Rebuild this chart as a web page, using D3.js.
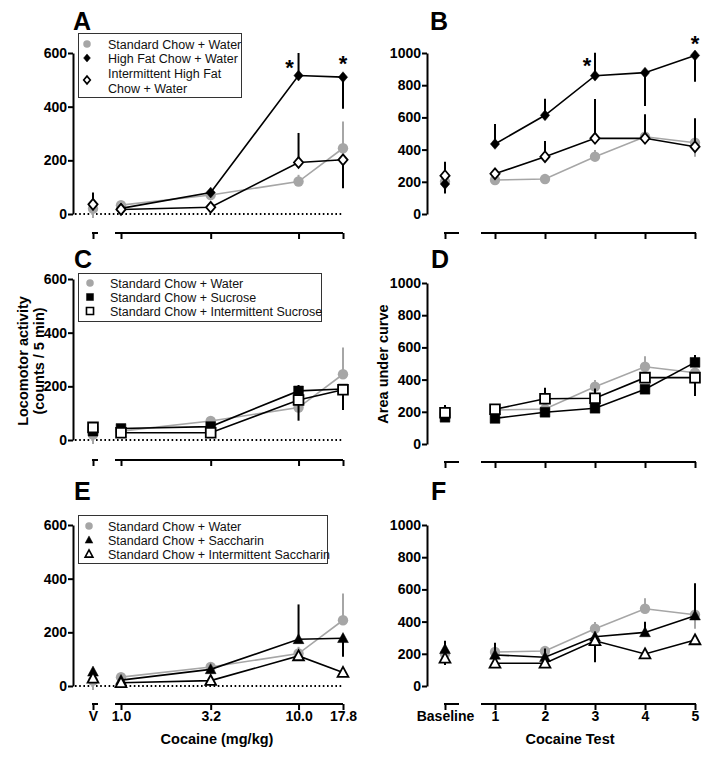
<!DOCTYPE html>
<html><head><meta charset="utf-8">
<script src="https://cdn.jsdelivr.net/npm/d3@7"></script>
<style>
body{margin:0;background:#fff}
svg{display:block}
text{font-family:"Liberation Sans",Arial,Helvetica,sans-serif}
</style>
</head><body>
<svg id="chart" width="714" height="759"></svg>
<script>
// ---------------- DATA ----------------
const doses = [1.0, 3.2, 10.0, 17.8];
const doseLabels = ["1.0", "3.2", "10.0", "17.8"];
const vehicleLabel = "V";
const tests = [1, 2, 3, 4, 5];
const testLabels = ["1", "2", "3", "4", "5"];
const baselineLabel = "Baseline";
const countTicks = [0, 200, 400, 600];
const aucTicks = [0, 200, 400, 600, 800, 1000];

// first element = vehicle (V) / Baseline; error: + drawn up, - drawn down
const stdWaterCounts    = [20, 33, 71, 121, 245];
const stdWaterCountsErr = [-35, 0, 0, 25, 100];
const stdWaterAuc       = [200, 211, 217, 356, 480, 443];
const stdWaterAucErr    = [-60, 0, 12, 42, 65, -88];

const hfCounts    = [35, 21, 80, 516, 510];
const hfCountsErr = [45, 0, 0, 84, -118];
const ihfCounts    = [36, 17, 25, 192, 202];
const ihfCountsErr = [0, 0, 0, 110, -106];
const hfAuc    = [186, 435, 613, 859, 878, 985];
const hfAucErr = [-58, 124, 103, 143, -207, -163];
const ihfAuc    = [238, 250, 356, 470, 470, 418];
const ihfAucErr = [87, 0, 97, 244, 149, 176];

const sucCounts    = [33, 43, 50, 183, 190];
const sucCountsErr = [0, 0, 0, 22, 0];
const isucCounts    = [47, 27, 27, 149, 187];
const isucCountsErr = [0, 0, 0, -77, -75];
const sucAuc    = [166, 159, 197, 222, 340, 507];
const sucAucErr = [0, 0, 0, 0, 0, 46];
const isucAuc    = [194, 216, 281, 284, 412, 412];
const isucAucErr = [48, 0, 69, 60, 0, -114];

const sacCounts    = [53, 22, 62, 174, 178];
const sacCountsErr = [0, 0, 0, 130, -69];
const isacCounts    = [29, 12, 20, 112, 50];
const isacCountsErr = [0, 0, 0, 0, 0];
const sacAuc    = [228, 193, 179, 306, 333, 437];
const sacAucErr = [53, 76, 54, 0, 66, 201];
const isacAuc    = [172, 141, 141, 281, 199, 286];
const isacAucErr = [-42, 0, 0, -134, 0, 0];

const starsA = [[10.0, 560], [17.8, 575]];
const starsB = [[3, 945], [5, 1080]];

const legendA = ["Standard Chow + Water", "High Fat Chow + Water", "Intermittent High Fat|Chow + Water"];
const legendC = ["Standard Chow + Water", "Standard Chow + Sucrose", "Standard Chow + Intermittent Sucrose"];
const legendE = ["Standard Chow + Water", "Standard Chow + Saccharin", "Standard Chow + Intermittent Saccharin"];

// ---------------- STYLES ----------------
const GRAY = "#a6a6a6";
const styles = {
  gray:    {fill: GRAY, stroke: "none", line: GRAY, sw: 0},
  filled:  {fill: "#000", stroke: "#000", line: "#000", sw: 0.5},
  open:    {fill: "#fff", stroke: "#000", line: "#000", sw: 1.8}
};

function markerPath(shape, k) {
  const p = d3.path();
  if (shape === "circle") { const r = 5.2 * k; p.moveTo(r, 0); p.arc(0, 0, r, 0, 2 * Math.PI); }
  else if (shape === "diamond") { const w = 4.6 * k, h = 5.4 * k; p.moveTo(0, -h); p.lineTo(w, 0); p.lineTo(0, h); p.lineTo(-w, 0); p.closePath(); }
  else if (shape === "square") { const s = 4.9 * k; p.rect(-s, -s, 2 * s, 2 * s); }
  else if (shape === "triangle") { const s = 5.4 * k; p.moveTo(0, -s * 1.05); p.lineTo(s, s * 0.8); p.lineTo(-s, s * 0.8); p.closePath(); }
  return p.toString();
}

const xDose = d3.scaleLog().domain([1, 17.8]).range([121, 343]);
const vehicleGap = 28;
const xTest = d3.scaleLinear().domain([0, 5]).range([445, 695]);

const svg = d3.select("#chart");

const panels = [
  {letter: "A", side: "L", top: 53, bottom: 214, axisY: 233, max: 600, ticks: countTicks, labels: false,
   series: [
     {v: stdWaterCounts, e: stdWaterCountsErr, st: "gray", shape: "circle"},
     {v: hfCounts, e: hfCountsErr, st: "filled", shape: "diamond"},
     {v: ihfCounts, e: ihfCountsErr, st: "open", shape: "diamond"}],
   stars: starsA, starDx: [-9, 0],
   legend: {x: 78, y: 33, w: 163, h: 64, mx: 87, tx: 108, rows: [44, 58, 80], text: legendA, shapes: ["circle", "diamond", "diamond"], st: ["gray", "filled", "open"]}},
  {letter: "B", side: "R", top: 53, bottom: 214, axisY: 233, max: 1000, ticks: aucTicks, labels: false,
   series: [
     {v: stdWaterAuc, e: stdWaterAucErr, st: "gray", shape: "circle"},
     {v: hfAuc, e: hfAucErr, st: "filled", shape: "diamond"},
     {v: ihfAuc, e: ihfAucErr, st: "open", shape: "diamond"}],
   stars: starsB, starDx: [-8, 0]},
  {letter: "C", side: "L", top: 279, bottom: 440, axisY: 460, max: 600, ticks: countTicks, labels: false,
   series: [
     {v: stdWaterCounts, e: stdWaterCountsErr, st: "gray", shape: "circle"},
     {v: sucCounts, e: sucCountsErr, st: "filled", shape: "square"},
     {v: isucCounts, e: isucCountsErr, st: "open", shape: "square"}],
   legend: {x: 78, y: 273, w: 243, h: 48, mx: 90, tx: 110, rows: [283, 297, 311], text: legendC, shapes: ["circle", "square", "square"], st: ["gray", "filled", "open"]}},
  {letter: "D", side: "R", top: 283, bottom: 444, axisY: 462, max: 1000, ticks: aucTicks, labels: false,
   series: [
     {v: stdWaterAuc, e: stdWaterAucErr, st: "gray", shape: "circle"},
     {v: sucAuc, e: sucAucErr, st: "filled", shape: "square"},
     {v: isucAuc, e: isucAucErr, st: "open", shape: "square"}]},
  {letter: "E", side: "L", top: 525, bottom: 686, axisY: 704, max: 600, ticks: countTicks, labels: true,
   series: [
     {v: stdWaterCounts, e: stdWaterCountsErr, st: "gray", shape: "circle"},
     {v: sacCounts, e: sacCountsErr, st: "filled", shape: "triangle"},
     {v: isacCounts, e: isacCountsErr, st: "open", shape: "triangle"}],
   legend: {x: 78, y: 515, w: 249, h: 48, mx: 89, tx: 108, rows: [526, 540, 554], text: legendE, shapes: ["circle", "triangle", "triangle"], st: ["gray", "filled", "open"]}},
  {letter: "F", side: "R", top: 525, bottom: 686, axisY: 704, max: 1000, ticks: aucTicks, labels: true,
   series: [
     {v: stdWaterAuc, e: stdWaterAucErr, st: "gray", shape: "circle"},
     {v: sacAuc, e: sacAucErr, st: "filled", shape: "triangle"},
     {v: isacAuc, e: isacAucErr, st: "open", shape: "triangle"}]}
];

const letterPos = {A: [73, 30], B: [430, 30], C: [74, 268], D: [431, 268], E: [74, 500], F: [431, 500]};

function styleAxis(g) {
  g.selectAll("path.domain").attr("stroke", "#000").attr("stroke-width", 2);
  g.selectAll(".tick line").attr("stroke", "#000").attr("stroke-width", 2);
  g.selectAll(".tick text").attr("fill", "#000").attr("font-size", 14).attr("font-weight", "bold")
    .attr("font-family", '"Liberation Sans", Arial, sans-serif');
}

panels.forEach(p => {
  const g = svg.append("g");
  const isL = p.side === "L";
  const ax = isL ? 73 : 427;
  const y = d3.scaleLinear().domain([0, p.max]).range([p.bottom, p.top]);
  const xs = isL ? [xDose(doses[0]) - vehicleGap, ...doses.map(d => xDose(d))]
                 : [xTest(0), ...tests.map(t => xTest(t))];

  // letter
  g.append("text").attr("x", letterPos[p.letter][0]).attr("y", letterPos[p.letter][1])
    .attr("font-size", 25).attr("font-weight", "bold").text(p.letter);

  // y axis
  const ya = d3.axisLeft(y).tickValues(p.ticks).tickSize(5).tickSizeOuter(0).tickPadding(1)
    .tickFormat(d3.format("d"));
  g.append("g").attr("transform", `translate(${ax},0)`).call(ya).call(styleAxis);

  // zero dotted line
  if (isL) {
    g.append("line").attr("x1", ax + 2).attr("x2", xDose(17.8)).attr("y1", y(0)).attr("y2", y(0))
      .attr("stroke", "#000").attr("stroke-width", 1.8).attr("stroke-dasharray", "1.6,2.6");
  }

  // x axis
  if (isL) {
    const xa = d3.axisBottom(xDose).tickValues(doses).tickSize(6).tickSizeOuter(0).tickPadding(1)
      .tickFormat((d, i) => p.labels ? doseLabels[i] : "");
    const gx = g.append("g").attr("transform", `translate(0,${p.axisY})`).call(xa).call(styleAxis);
    gx.select(".domain").remove();
    gx.append("line").attr("x1", xDose(1) - 6).attr("x2", xDose(17.8)).attr("stroke", "#000").attr("stroke-width", 2);
    const vs = d3.scalePoint().domain([vehicleLabel]).range([xs[0], xs[0]]);
    const va = d3.axisBottom(vs).tickSize(6).tickSizeOuter(0).tickPadding(1).tickFormat(d => p.labels ? d : "");
    const gv = g.append("g").attr("transform", `translate(0,${p.axisY})`).call(va).call(styleAxis);
    gv.select(".domain").remove();
    gv.append("line").attr("x1", xs[0] - 1).attr("x2", xs[0] + 5).attr("stroke", "#000").attr("stroke-width", 2);
  } else {
    const xa = d3.axisBottom(xTest).tickValues(tests).tickSize(6).tickSizeOuter(0).tickPadding(1)
      .tickFormat((d, i) => p.labels ? testLabels[i] : "");
    const gx = g.append("g").attr("transform", `translate(0,${p.axisY})`).call(xa).call(styleAxis);
    gx.select(".domain").remove();
    gx.append("line").attr("x1", xTest(0.72)).attr("x2", xTest(5) + 1).attr("stroke", "#000").attr("stroke-width", 2);
    const ba = d3.axisBottom(xTest).tickValues([0]).tickSize(6).tickSizeOuter(0).tickPadding(1)
      .tickFormat(() => p.labels ? baselineLabel : "");
    const gb = g.append("g").attr("transform", `translate(0,${p.axisY})`).call(ba).call(styleAxis);
    gb.select(".domain").remove();
    gb.append("line").attr("x1", xTest(0) - 1).attr("x2", xTest(0.28)).attr("stroke", "#000").attr("stroke-width", 2);
  }

  // series
  p.series.forEach(s => {
    const st = styles[s.st];
    const pts = s.v.map((v, i) => ({x: xs[i], v: v, e: s.e[i], i: i}));
    // error bars
    g.append("g").selectAll("line").data(pts.filter(d => d.e !== 0)).join("line")
      .attr("x1", d => d.x).attr("x2", d => d.x)
      .attr("y1", d => y(d.v)).attr("y2", d => y(d.v + d.e))
      .attr("stroke", st.line).attr("stroke-width", 2);
    // connecting line (doses / tests only)
    g.append("path").datum(pts.slice(1))
      .attr("d", d3.line().x(d => d.x).y(d => y(d.v)))
      .attr("fill", "none").attr("stroke", st.line).attr("stroke-width", 1.6);
    // markers
    g.append("g").selectAll("path").data(pts).join("path")
      .attr("transform", d => `translate(${d.x},${y(d.v)})`)
      .attr("d", markerPath(s.shape, 1))
      .attr("fill", st.fill).attr("stroke", st.stroke).attr("stroke-width", st.sw);
  });

  // stars
  if (p.stars) {
    g.append("g").selectAll("text").data(p.stars).join("text")
      .attr("x", (d, i) => (isL ? xDose(d[0]) : xTest(d[0])) + p.starDx[i])
      .attr("y", d => y(d[1]) + 11)
      .attr("text-anchor", "middle").attr("font-size", 22).attr("font-weight", "bold").text("*");
  }

  // legend
  if (p.legend) {
    const L = p.legend;
    g.append("rect").attr("x", L.x + 0.5).attr("y", L.y + 0.5).attr("width", L.w).attr("height", L.h)
      .attr("fill", "#fff").attr("stroke", "#333").attr("stroke-width", 1);
    L.text.forEach((t, i) => {
      const st = styles[L.st[i]];
      g.append("path").attr("transform", `translate(${L.mx},${L.rows[i]})`)
        .attr("d", markerPath(L.shapes[i], L.st[i] === "filled" && L.shapes[i] === "diamond" ? 0.75 : 0.72))
        .attr("fill", st.fill).attr("stroke", st.stroke).attr("stroke-width", st.sw * 0.9);
      const lines = t.split("|");
      const y0 = lines.length > 1 ? L.rows[i] - 7 : L.rows[i];
      lines.forEach((ln, j) => {
        g.append("text").attr("x", L.tx).attr("y", y0 + j * 15 + 4.5)
          .attr("font-size", 12.5).attr("fill", "#111").text(ln);
      });
    });
  }
});

// axis titles
svg.append("text").attr("transform", "translate(28,361) rotate(-90)").attr("text-anchor", "middle")
  .attr("font-size", 14.5).attr("font-weight", "bold").text("Locomotor activity");
svg.append("text").attr("transform", "translate(44,361) rotate(-90)").attr("text-anchor", "middle")
  .attr("font-size", 14.5).attr("font-weight", "bold").text("(counts / 5 min)");
svg.append("text").attr("transform", "translate(388,364) rotate(-90)").attr("text-anchor", "middle")
  .attr("font-size", 14.5).attr("font-weight", "bold").text("Area under curve");
svg.append("text").attr("x", 217).attr("y", 744).attr("text-anchor", "middle")
  .attr("font-size", 14.5).attr("font-weight", "bold").text("Cocaine (mg/kg)");
svg.append("text").attr("x", 570).attr("y", 744).attr("text-anchor", "middle")
  .attr("font-size", 14.5).attr("font-weight", "bold").text("Cocaine Test");
</script>
</body></html>
